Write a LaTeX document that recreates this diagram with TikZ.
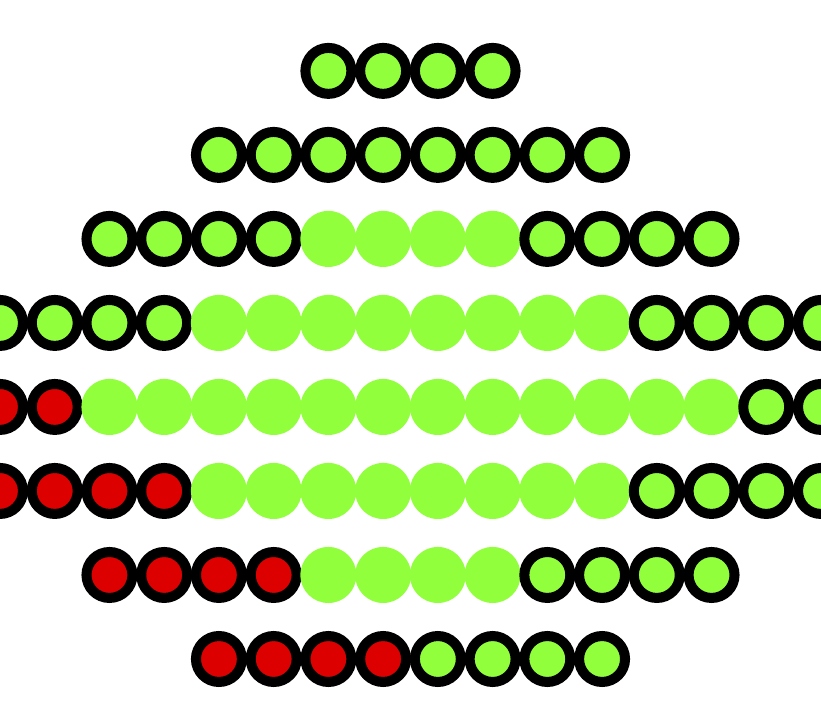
\documentclass[tikz,border=0pt]{standalone}
\usepackage{tikz}

\definecolor{lime}{RGB}{145,255,60}
\definecolor{stop}{RGB}{220,0,0}

\begin{document}
\begin{tikzpicture}[
    ring/.style={circle,draw=black,line width=0.183cm,fill=lime,
        minimum size=0.84cm,inner sep=0pt},
    redring/.style={ring,fill=stop},
    dot/.style={circle,fill=lime,minimum size=1.024cm,inner sep=0pt}]
    \useasboundingbox (0,0) rectangle (15,-13.155);
    % rows of lamps: row/first/last/style
    \foreach \r/\a/\b/\st in {1/6/9/ring,2/4/11/ring,
        3/2/5/ring,3/6/9/dot,3/10/13/ring,
        4/0/3/ring,4/4/11/dot,4/12/15/ring,
        5/0/1/redring,5/2/13/dot,5/14/15/ring,
        6/0/3/redring,6/4/11/dot,6/12/15/ring,
        7/2/5/redring,7/6/9/dot,7/10/13/ring,
        8/4/7/redring,8/8/11/ring}
    {
        \foreach \k in {\a,...,\b}
        {
            \node[\st] (l\r-\k) at (\k,{-(\r*1.535-0.24)}){};
        }
    }
\end{tikzpicture}
\end{document}
